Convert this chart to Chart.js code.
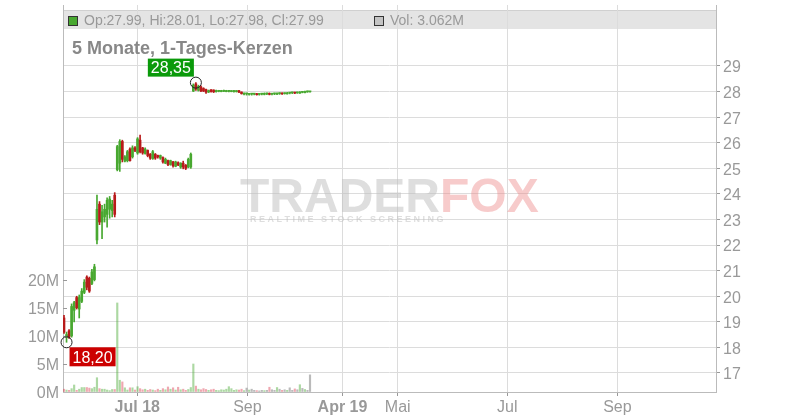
<!DOCTYPE html>
<html>
<head>
<meta charset="utf-8">
<script src="https://cdn.jsdelivr.net/npm/chart.js@4"></script>
<style>
  html, body { margin: 0; padding: 0; background: #fff; }
  #wrap { width: 800px; height: 420px; }
</style>
</head>
<body>
<div id="wrap"><canvas id="chart" width="800" height="420"></canvas></div>
<script>
// candles, one per trading day (index = day number)
var opens = [
  19.15, 18.40, 18.65, 18.45, 19.45, 19.95, 19.50, 19.80, 20.15, 20.75, 20.70, 20.50, 20.65,
  22.20, 23.60, 22.90, 23.10, 23.20, 23.40, 23.35, 23.95,
  24.95, 25.20, 26.05, 25.28, 25.30, 25.75, 25.45, 25.80, 25.60, 26.10, 25.80, 25.58, 25.70, 25.55, 25.38,
  25.55, 25.50, 25.40, 25.42, 25.20, 25.30, 25.15, 25.25, 25.08, 25.22, 25.05, 25.20, 25.12, 25.05, 25.05,
  28.02, 28.30, 28.05, 28.18, 28.12, 28.08, 27.98, 28.07, 28.06, 28.00, 28.01, 28.00, 28.01, 28.00, 28.01, 28.00,
  28.00, 28.00, 28.03, 27.98, 27.90, 27.91, 27.89, 27.90, 27.90, 27.92, 27.89, 27.90, 27.89, 27.91, 27.93, 27.90,
  27.91, 27.90, 27.92, 27.94, 27.92, 27.91, 27.94, 27.95, 27.97, 27.95, 27.94, 27.97, 27.96, 27.99, 27.99
];
var highs = [
  19.25, 18.60, 18.70, 19.70, 19.80, 20.00, 20.05, 20.30, 20.65, 20.80, 20.75, 21.05, 21.25,
  23.95, 23.70, 23.55, 23.60, 23.85, 23.90, 23.75, 24.05,
  25.90, 26.12, 26.10, 25.50, 25.70, 25.80, 25.88, 25.85, 26.20, 26.30, 25.82, 25.80, 25.72, 25.58, 25.70,
  25.58, 25.52, 25.52, 25.45, 25.40, 25.32, 25.32, 25.27, 25.28, 25.25, 25.22, 25.28, 25.15, 25.40, 25.60,
  28.30, 28.35, 28.25, 28.22, 28.15, 28.10, 28.06, 28.08, 28.07, 28.06, 28.05, 28.05, 28.06, 28.05, 28.05, 28.04,
  28.05, 28.04, 28.05, 27.99, 27.95, 27.94, 27.93, 27.93, 27.93, 27.93, 27.92, 27.93, 27.95, 27.94, 27.95, 27.93,
  27.94, 27.95, 27.95, 27.95, 27.95, 27.97, 27.97, 27.98, 27.98, 27.98, 28.00, 28.00, 28.02, 28.02, 28.01
];
var lows = [
  18.55, 18.20, 18.35, 18.40, 19.00, 19.50, 19.15, 19.75, 20.10, 20.25, 20.15, 20.45, 20.60,
  22.05, 22.80, 22.25, 22.90, 22.70, 23.05, 23.10, 23.10,
  24.90, 24.88, 25.25, 25.25, 25.25, 25.28, 25.40, 25.65, 25.55, 25.60, 25.55, 25.55, 25.45, 25.35, 25.35,
  25.35, 25.40, 25.35, 25.20, 25.18, 25.10, 25.12, 25.05, 25.06, 25.10, 25.00, 24.98, 24.95, 25.02, 25.00,
  28.00, 28.05, 28.02, 28.00, 28.00, 27.93, 27.96, 27.98, 27.96, 27.98, 27.99, 27.99, 28.00, 27.99, 27.99, 27.99,
  27.98, 27.98, 27.96, 27.90, 27.87, 27.86, 27.86, 27.86, 27.87, 27.86, 27.86, 27.87, 27.87, 27.88, 27.87, 27.87,
  27.88, 27.88, 27.89, 27.89, 27.90, 27.90, 27.91, 27.92, 27.92, 27.93, 27.93, 27.95, 27.95, 27.97, 27.98
];
var closes = [
  18.60, 18.50, 18.40, 19.60, 19.75, 19.55, 19.95, 20.20, 20.55, 20.35, 20.20, 20.95, 21.15,
  23.40, 22.90, 23.30, 23.40, 23.75, 23.80, 23.60, 23.20,
  25.85, 26.05, 25.35, 25.45, 25.65, 25.30, 25.80, 25.70, 26.15, 25.65, 25.60, 25.75, 25.50, 25.40, 25.65,
  25.40, 25.45, 25.50, 25.25, 25.35, 25.15, 25.30, 25.10, 25.25, 25.13, 25.20, 25.05, 25.00, 25.35, 25.55,
  28.25, 28.10, 28.20, 28.03, 28.02, 27.98, 28.04, 28.00, 27.99, 28.04, 28.03, 28.04, 28.04, 28.03, 28.04, 28.03,
  28.04, 28.02, 27.98, 27.92, 27.93, 27.91, 27.92, 27.90, 27.90, 27.88, 27.89, 27.90, 27.93, 27.91, 27.89, 27.90,
  27.91, 27.94, 27.92, 27.91, 27.92, 27.95, 27.94, 27.95, 27.94, 27.95, 27.98, 27.97, 28.00, 27.99, 27.99
];
// volume in millions
var volumes = [
  0.5, 0.35, 0.3, 0.6, 1.25, 0.3, 0.5, 0.8, 0.8, 0.8, 0.7, 0.6, 0.85,
  2.55, 0.6, 0.5, 0.5, 0.35, 0.25, 0.45, 0.45,
  15.9, 2.1, 1.8, 0.75, 0.35, 0.75, 0.75, 0.35, 0.95, 0.6, 0.4, 0.5, 0.3, 0.45, 0.35,
  0.25, 0.5, 0.3, 0.6, 0.4, 0.9, 0.5, 0.75, 0.35, 0.85, 0.4, 0.5, 0.3, 0.45, 0.8,
  5.0, 1.05, 0.5, 0.4, 0.6, 0.45, 0.3, 0.4, 0.5, 0.3, 0.25, 0.4, 0.35, 0.5, 0.95, 0.6,
  0.3, 0.4, 0.35, 0.5, 0.25, 0.7, 0.35, 0.5, 0.3, 0.25, 0.2, 0.3, 0.25, 0.3, 0.85, 0.4,
  0.3, 0.8, 0.5, 0.3, 0.4, 0.3, 0.75, 0.3, 0.55, 0.4, 1.3, 0.65, 0.45, 0.3, 3.062
];

var priceTicks = [17, 18, 19, 20, 21, 22, 23, 24, 25, 26, 27, 28, 29];
var volTicks = [0, 5, 10, 15, 20];
var xTickPos = [28.9, 72.3, 109.8, 131.6, 174.8, 218.2];
var xTickLabels = ['Jul 18', 'Sep', 'Apr 19', 'Mai', 'Jul', 'Sep'];
var title = '5 Monate, 1-Tages-Kerzen';

var UP = '#48a830', DOWN = '#b81a1a';
var FONT = "'Liberation Sans', Arial, sans-serif";

var wicks = [], bodies = [], vols = [], candleCol = [], volCol = [];
for (var i = 0; i < opens.length; i++) {
    wicks.push({x: i, y: [lows[i], highs[i]]});
    bodies.push({x: i, y: [Math.min(opens[i], closes[i]), Math.max(opens[i], closes[i])]});
    vols.push({x: i, y: volumes[i]});
    candleCol.push(closes[i] >= opens[i] ? UP : DOWN);
    if (closes[i] > opens[i]) volCol.push('rgba(72,168,48,0.45)');
    else if (closes[i] < opens[i]) volCol.push('rgba(220,60,80,0.45)');
    else volCol.push('rgba(140,140,140,0.6)');
}

function fmt(v) { return v.toFixed(2).replace('.', ','); }

function noPad(s) { s.paddingTop = 0; s.paddingBottom = 0; s.paddingLeft = 0; s.paddingRight = 0; }

var decor = {
    id: 'decor',
    beforeDraw: function (chart) {
        var c = chart.ctx, a = chart.chartArea;
        c.save();
        c.fillStyle = '#e4e4e4';
        c.fillRect(a.left, 10, a.right - a.left, 19);
        c.strokeStyle = '#d0d0d0';
        c.beginPath(); c.moveTo(a.left, 10.5); c.lineTo(a.right, 10.5); c.stroke();
        c.restore();
    },
    beforeDatasetsDraw: function (chart) {
        var c = chart.ctx;
        c.save();
        c.font = 'bold 48px ' + FONT;
        c.textBaseline = 'alphabetic';
        c.fillStyle = 'rgba(190,190,190,0.5)';
        c.fillText('TRADER', 240, 212);
        var w = c.measureText('TRADER').width;
        c.fillStyle = 'rgba(235,130,130,0.42)';
        c.fillText('FOX', 240 + w, 212);
        c.font = 'bold 9px ' + FONT;
        c.fillStyle = 'rgba(190,190,190,0.5)';
        c.fillText('R E A L T I M E   S T O C K   S C R E E N I N G', 250, 222);
        c.restore();
    },
    afterDraw: function (chart) {
        var c = chart.ctx, a = chart.chartArea;
        var xs = chart.scales.x, ys = chart.scales.y, vs = chart.scales.yVol;
        var n = opens.length - 1;
        c.save();
        // inner volume tick marks
        c.strokeStyle = '#999';
        c.lineWidth = 1;
        volTicks.forEach(function (v) {
            if (v === 0) return;
            var y = Math.round(vs.getPixelForValue(v)) + 0.5;
            c.beginPath(); c.moveTo(a.left, y); c.lineTo(a.left + 4, y); c.stroke();
        });
        // header
        c.font = '14px ' + FONT;
        c.textBaseline = 'middle';
        c.fillStyle = candleCol[n];
        c.fillRect(68.5, 16.5, 9, 9);
        c.strokeStyle = '#333';
        c.strokeRect(68.5, 16.5, 9, 9);
        c.fillStyle = '#999';
        c.fillText('Op:' + opens[n].toFixed(2) + ', Hi:' + highs[n].toFixed(2) + ', Lo:' + lows[n].toFixed(2) + ', Cl:' + closes[n].toFixed(2), 84, 21);
        c.fillStyle = '#c4c4c4';
        c.fillRect(374.5, 16.5, 9, 9);
        c.strokeRect(374.5, 16.5, 9, 9);
        c.fillStyle = '#999';
        c.fillText('Vol: ' + volumes[n].toFixed(3) + 'M', 390, 21);
        // title
        c.font = 'bold 18px ' + FONT;
        c.textBaseline = 'alphabetic';
        c.fillStyle = '#888';
        c.fillText(title, 72, 54);
        // max / min markers
        var hi = 0, lo = 0;
        for (var k = 0; k < highs.length; k++) {
            if (highs[k] > highs[hi]) hi = k;
            if (lows[k] < lows[lo]) lo = k;
        }
        var hx = xs.getPixelForValue(hi), hy = ys.getPixelForValue(highs[hi]);
        var lx = xs.getPixelForValue(lo), ly = ys.getPixelForValue(lows[lo]);
        c.strokeStyle = '#222';
        c.beginPath(); c.arc(hx, hy, 5.5, 0, Math.PI * 2); c.stroke();
        c.beginPath(); c.arc(lx, ly, 5.5, 0, Math.PI * 2); c.stroke();
        c.font = '16px ' + FONT;
        c.textBaseline = 'middle';
        c.textAlign = 'center';
        var t = fmt(highs[hi]), tw = c.measureText(t).width + 6;
        c.fillStyle = '#0a9a0a';
        c.fillRect(hx - 2 - tw, hy - 24, tw, 18);
        c.fillStyle = '#fff';
        c.fillText(t, hx - 2 - tw / 2, hy - 14);
        t = fmt(lows[lo]); tw = c.measureText(t).width + 6;
        c.fillStyle = '#cc0000';
        c.fillRect(lx + 3, ly + 5, tw, 19);
        c.fillStyle = '#fff';
        c.fillText(t, lx + 3 + tw / 2, ly + 16);
        c.restore();
    }
};

new Chart(document.getElementById('chart').getContext('2d'), {
    type: 'bar',
    data: {
        datasets: [
            {data: vols, yAxisID: 'yVol', backgroundColor: volCol, barThickness: 1.5, grouped: false, order: 3},
            {data: wicks, yAxisID: 'y', backgroundColor: candleCol, barThickness: 1, grouped: false, order: 2},
            {data: bodies, yAxisID: 'y', backgroundColor: candleCol, barThickness: 2, minBarLength: 1, grouped: false, order: 1}
        ]
    },
    options: {
        responsive: false,
        animation: false,
        layout: {padding: {top: 5, left: 0, right: 0, bottom: 0}},
        plugins: {legend: {display: false}, tooltip: {enabled: false}},
        scales: {
            x: {
                type: 'linear',
                offset: false,
                min: -0.394,
                max: 257.08,
                afterBuildTicks: function (s) { s.ticks = xTickPos.map(function (v) { return {value: v}; }); },
                afterFit: function (s) { s.height = 28; noPad(s); },
                grid: {offset: false, color: '#dcdcdc', tickColor: '#999', tickLength: 4},
                border: {color: '#bbb'},
                ticks: {
                    autoSkip: false, maxRotation: 0, padding: 2, color: '#999',
                    callback: function (v, idx) { return xTickLabels[idx]; },
                    font: function (ctx) {
                        var lab = xTickLabels[ctx.index] || '';
                        return {family: FONT, size: 16, weight: /\d/.test(lab) ? 'bold' : 'normal'};
                    }
                }
            },
            y: {
                position: 'right',
                min: 16.257,
                max: 31.384,
                afterBuildTicks: function (s) { s.ticks = priceTicks.map(function (v) { return {value: v}; }); },
                afterFit: function (s) { s.width = 84; noPad(s); },
                grid: {color: '#dcdcdc', tickColor: '#999', tickLength: 4},
                border: {color: '#bbb'},
                ticks: {padding: 3, labelOffset: 2, color: '#999', font: {family: FONT, size: 16}}
            },
            yVol: {
                position: 'left',
                min: 0,
                max: 69.1,
                afterBuildTicks: function (s) { s.ticks = volTicks.map(function (v) { return {value: v}; }); },
                afterFit: function (s) { s.width = 63; noPad(s); },
                grid: {drawOnChartArea: false, drawTicks: false},
                border: {color: '#bbb'},
                ticks: {padding: 4, labelOffset: 2, color: '#999', font: {family: FONT, size: 16},
                    callback: function (v) { return v + 'M'; }}
            }
        }
    },
    plugins: [decor]
});
</script>
</body>
</html>
